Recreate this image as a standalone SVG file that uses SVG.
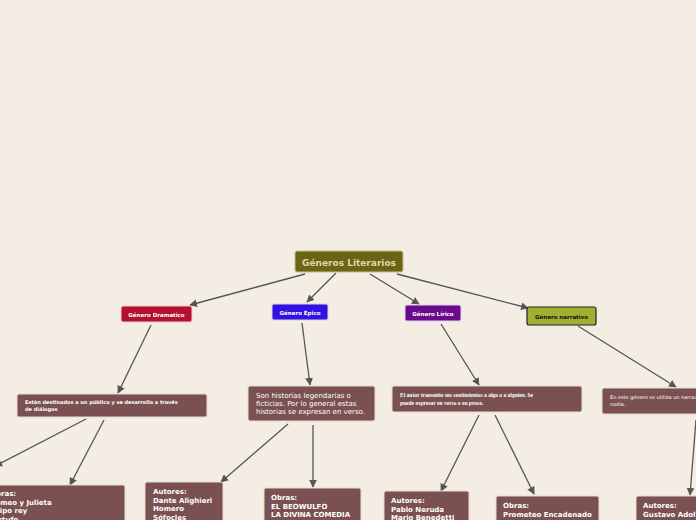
<svg xmlns="http://www.w3.org/2000/svg" width="696" height="520" viewBox="0 0 696 520">
<style>
.b{fill:#7a5050;stroke:#e8dcd0;stroke-width:1}
.t{font-family:"DejaVu Sans",sans-serif;fill:#fff}
.c line{stroke:#555;stroke-width:1.3;marker-end:url(#a)}
</style>
<defs><marker id="a" viewBox="0 0 10 10" refX="9" refY="5" markerWidth="6" markerHeight="6" orient="auto"><path d="M0,0L10,5L0,10z" fill="#555"/></marker></defs>
<rect width="696" height="520" fill="#f3ede3"/>
<g class="c">
<line x1="305" y1="274" x2="190" y2="305"/>
<line x1="336" y1="273" x2="307" y2="302"/>
<line x1="370" y1="274" x2="419" y2="304"/>
<line x1="397" y1="274" x2="528" y2="308"/>
<line x1="151" y1="325" x2="118" y2="393"/>
<line x1="302" y1="323" x2="310" y2="385"/>
<line x1="441" y1="324" x2="479" y2="385"/>
<line x1="578" y1="326" x2="676" y2="387"/>
<line x1="86" y1="419" x2="-5" y2="466"/>
<line x1="104" y1="420" x2="70" y2="485"/>
<line x1="288" y1="424" x2="221" y2="482"/>
<line x1="313" y1="425" x2="313" y2="487"/>
<line x1="479" y1="415" x2="441" y2="491"/>
<line x1="495" y1="415" x2="534" y2="494"/>
<line x1="696" y1="420" x2="690" y2="495"/>
</g>
<g id="root"><rect x="295" y="251" width="108" height="21" rx="2" fill="#6b6416" stroke="#c8c090"/><text x="349" y="265.5" text-anchor="middle" class="t" style="font-size:9px;font-weight:bold;fill:#ddd8a8">Géneros Literarios</text></g>
<g id="dram"><rect x="121" y="306" width="71" height="16" rx="2" fill="#b5102e" stroke="#f0d0d0"/><text x="156.5" y="316.5" text-anchor="middle" class="t" style="font-size:5.5px;font-weight:bold">Género Dramatico</text></g>
<g id="epico"><rect x="272" y="304" width="56" height="16" rx="2" fill="#3311e0" stroke="#d0d0f0"/><text x="300" y="314.5" text-anchor="middle" class="t" style="font-size:5.5px;font-weight:bold">Género Épico</text></g>
<g id="lirico"><rect x="405" y="305" width="56" height="16" rx="2" fill="#6a0a8a" stroke="#e0d0f0"/><text x="433" y="315.5" text-anchor="middle" class="t" style="font-size:5.5px;font-weight:bold">Género Lírico</text></g>
<g id="narr"><rect x="527" y="307" width="69" height="18" rx="2" fill="#a0b030" stroke="#222" stroke-width="1.2"/><text x="561.5" y="318.5" text-anchor="middle" class="t" style="font-size:5.5px;font-weight:bold;fill:#111">Género narrativo</text></g>
<g id="d1"><rect class="b" x="17" y="394" width="190" height="23" rx="2"/><text class="t" style="font-size:5px;font-weight:bold" x="25" y="403.5">Están destinados a un público y se desarrolla a través<tspan x="25" dy="7.5">de diálogos</tspan></text></g>
<g id="d2"><rect class="b" x="248" y="386" width="127" height="35" rx="2"/><text class="t" style="font-size:7px" x="256" y="397.5">Son historias legendarias o<tspan x="256" dy="8.3">ficticias. Por lo general estas</tspan><tspan x="256" dy="8.3">historias se expresan en verso.</tspan></text></g>
<g id="d3"><rect class="b" x="392" y="386" width="190" height="26" rx="2"/><text style="font-family:'Liberation Serif',serif;font-size:5.5px;font-weight:bold;fill:#fff" x="400" y="396.5">El autor transmite sus sentimientos a algo o a alguien. Se<tspan x="400" dy="8">puede expresar en verso o en prosa.</tspan></text></g>
<g id="d4"><rect class="b" x="602" y="388" width="100" height="26" rx="2"/><text class="t" style="font-size:5px" x="610" y="398.5">En este género se utiliza un narrador<tspan x="610" dy="7.5">nodia.</tspan></text></g>
<g id="o1"><rect class="b" x="-10" y="485" width="135" height="40" rx="2"/><text class="t" style="font-size:7px;font-weight:bold" x="-10" y="496">Obras:<tspan x="-10" dy="8.5">Romeo y Julieta</tspan><tspan x="-10" dy="8.5">Edipo rey</tspan><tspan x="-10" dy="8.5">Tartufo</tspan></text></g>
<g id="o2"><rect class="b" x="145" y="482" width="78" height="45" rx="2"/><text class="t" style="font-size:7px;font-weight:bold" x="153" y="494">Autores:<tspan x="153" dy="8.5">Dante Alighieri</tspan><tspan x="153" dy="8.5">Homero</tspan><tspan x="153" dy="8.5">Sófocles</tspan></text></g>
<g id="o3"><rect class="b" x="264" y="488" width="97" height="40" rx="2"/><text class="t" style="font-size:7px;font-weight:bold" x="271" y="500">Obras:<tspan x="271" dy="8.5">EL BEOWULFO</tspan><tspan x="271" dy="8.5">LA DIVINA COMEDIA</tspan></text></g>
<g id="o4"><rect class="b" x="384" y="491" width="85" height="40" rx="2"/><text class="t" style="font-size:7px;font-weight:bold" x="391" y="503">Autores:<tspan x="391" dy="8.5">Pablo Neruda</tspan><tspan x="391" dy="8.5">Mario Benedetti</tspan></text></g>
<g id="o5"><rect class="b" x="496" y="496" width="103" height="40" rx="2"/><text class="t" style="font-size:7px;font-weight:bold" x="503" y="508">Obras:<tspan x="503" dy="8.5">Prometeo Encadenado</tspan></text></g>
<g id="o6"><rect class="b" x="636" y="496" width="70" height="40" rx="2"/><text class="t" style="font-size:7px;font-weight:bold" x="643" y="508">Autores:<tspan x="643" dy="8.5">Gustavo Adolfo</tspan></text></g>
</svg>
